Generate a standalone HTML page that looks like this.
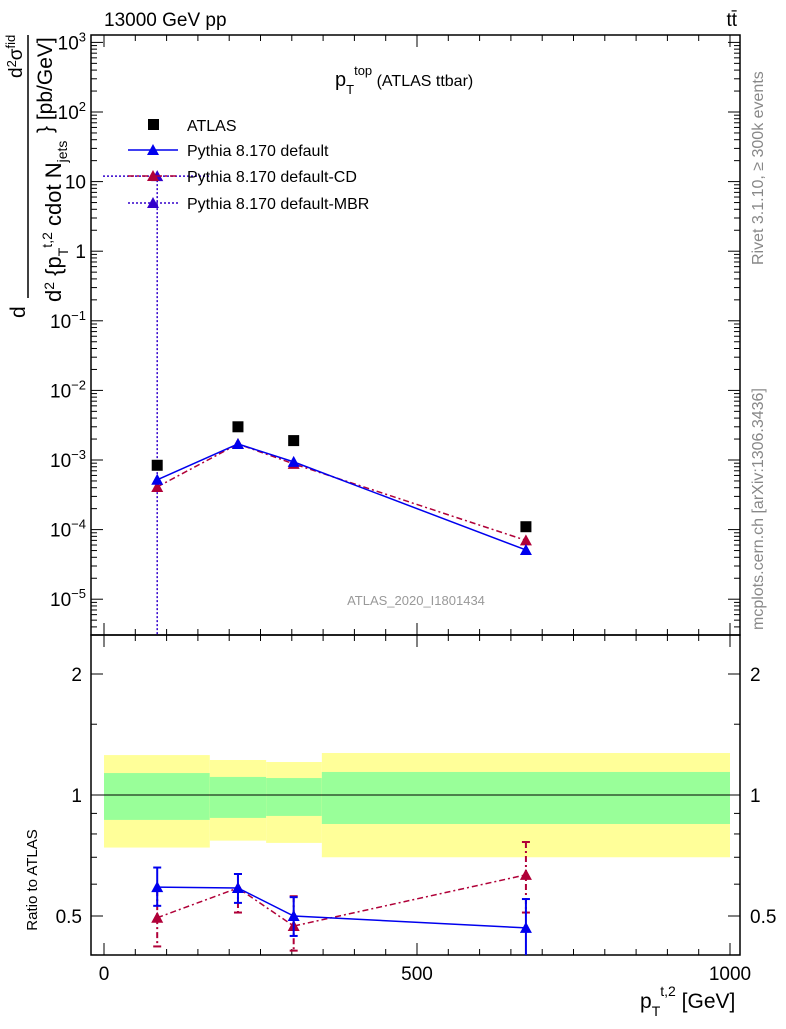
<!DOCTYPE html>
<html><head><meta charset="utf-8"><style>
body{margin:0;background:#fff;width:786px;height:1024px;overflow:hidden}
svg text{font-family:"Liberation Sans",sans-serif}
</style></head><body>
<svg id="c" width="786" height="1024" xmlns="http://www.w3.org/2000/svg"></svg>
<script>
const xs=[85,214,303,674];
const atlas=[8.4e-4,3.0e-3,1.9e-3,1.1e-4];
const def=[5.2e-4,1.7e-3,9.4e-4,5.1e-5];
const cd=[4.1e-4,1.7e-3,8.8e-4,7.0e-5];
const mbrX=[85];const mbrY=[12];
const binEdges=[0,169,259,348,1000];
const yelLo=[0.74,0.77,0.76,0.70],yelHi=[1.257,1.222,1.208,1.272];
const grnLo=[0.867,0.877,0.887,0.847],grnHi=[1.134,1.109,1.102,1.141];
const rDef=[0.59,0.587,0.50,0.467],rDefLo=[0.53,0.539,0.446,0.38],rDefHi=[0.66,0.636,0.557,0.551];
const rCd=[0.495,0.587,0.472,0.633],rCdLo=[0.42,0.51,0.41,0.51],rCdHi=[0.58,0.636,0.56,0.764];
const xTicks=[0,500,1000];
const yTicks=[3,2,1,0,-1,-2,-3,-4,-5];
const rTicks=[2,1,0.5];

const NS="http://www.w3.org/2000/svg",svg=document.getElementById('c');
function X(v){return 104+v*0.626}
function Y(v){return 460-(Math.log10(v)+3)*69.6}
function R(v){return 795-121*Math.log2(v)}
function el(t,a,p){const e=document.createElementNS(NS,t);for(const k in a)e.setAttribute(k,a[k]);(p||svg).appendChild(e);return e}
function txt(x,y,s,a,p){const e=el('text',Object.assign({x:x,y:y},a||{}),p);e.innerHTML=s;return e}
const L=91,Rt=740,T=35,M=635,B=955;
const bands=el('g',{});


for(let i=0;i<4;i++){
 const x0=X(binEdges[i]),x1=X(binEdges[i+1]);
 const y=el('rect',{x:x0,y:R(yelHi[i]),width:x1-x0,height:R(yelLo[i])-R(yelHi[i]),fill:'#ffff99'},bands);
 
 
 const g=el('rect',{x:x0,y:R(grnHi[i]),width:x1-x0,height:R(grnLo[i])-R(grnHi[i]),fill:'#99ff99'},bands);
 
 
}
el('line',{x1:L,x2:Rt,y1:R(1),y2:R(1),stroke:'#000'});
el('rect',{x:L,y:T,width:Rt-L,height:M-T,fill:'none',stroke:'#000','stroke-width':1.5});
el('rect',{x:L,y:M,width:Rt-L,height:B-M,fill:'none',stroke:'#000','stroke-width':1.5});
for(let d=-6;d<=3;d++){for(let m=1;m<10;m++){const v=m*Math.pow(10,d);const y=Y(v);if(y<T||y>M)continue;const l=m==1?12:6;
 el('line',{x1:L,x2:L+l,y1:y,y2:y,stroke:'#000'});el('line',{x1:Rt,x2:Rt-l,y1:y,y2:y,stroke:'#000'});}}
const ylab={3:'10<tspan dy="-8" font-size="13">3</tspan>',2:'10<tspan dy="-8" font-size="13">2</tspan>',1:'10',0:'1',
 '-1':'10<tspan dy="-8" font-size="13">−1</tspan>','-2':'10<tspan dy="-8" font-size="13">−2</tspan>','-3':'10<tspan dy="-8" font-size="13">−3</tspan>','-4':'10<tspan dy="-8" font-size="13">−4</tspan>','-5':'10<tspan dy="-8" font-size="13">−5</tspan>'};
for(const d of yTicks){const t=txt(86,Y(Math.pow(10,d))+7,ylab[d],{'font-size':19,'text-anchor':'end'});
 
 }
for(let v=0;v<=1000;v+=50){const x=X(v),l=v%500==0?12:6;
 el('line',{x1:x,x2:x,y1:B,y2:B-l,stroke:'#000'});el('line',{x1:x,x2:x,y1:M,y2:M-l,stroke:'#000'});
 el('line',{x1:x,x2:x,y1:M,y2:M+l,stroke:'#000'});el('line',{x1:x,x2:x,y1:T,y2:T+l,stroke:'#000'});}
for(const v of xTicks){const t=txt(X(v),980,v,{'font-size':19,'text-anchor':'middle'});
 
 }
for(const v of [0.4,0.5,0.6,0.7,0.8,0.9,1,1.5,2]){const y=R(v);const l=(v==0.5||v==1||v==2)?12:6;
 el('line',{x1:L,x2:L+l,y1:y,y2:y,stroke:'#000'});el('line',{x1:Rt,x2:Rt-l,y1:y,y2:y,stroke:'#000'});}
for(const v of rTicks){txt(82,R(v)+7,v,{'font-size':19,'text-anchor':'end'});txt(750,R(v)+7,v,{'font-size':19});}
function tri(x,y,c,p){return el('path',{d:`M${x},${y-6}L${x+6},${y+5}L${x-6},${y+5}Z`,fill:c},p)}
function series(vals,c,dash,name){const g=el('g',{});
 el('polyline',{points:vals.map((v,i)=>X(xs[i])+','+Y(v)).join(' '),fill:'none',stroke:c,'stroke-width':1.5,'stroke-dasharray':dash},g);
 vals.forEach((v,i)=>tri(X(xs[i]),Y(v),c,g));}
el('line',{x1:X(mbrX[0]),x2:X(mbrX[0]),y1:Y(mbrY[0]),y2:M,stroke:'#3300cc','stroke-dasharray':'2,2','stroke-width':1.5});
el('line',{x1:103,x2:210,y1:Y(mbrY[0]),y2:Y(mbrY[0]),stroke:'#3300cc','stroke-dasharray':'2,2','stroke-width':1.5});
tri(X(mbrX[0]),Y(mbrY[0]),'#3300cc');
series(cd,'#b00038','6,3,2,3','series-default-cd');
series(def,'#0000ee','','series-default');
atlas.forEach((v,i)=>{const r=el('rect',{x:X(xs[i])-5.5,y:Y(v)-5.5,width:11,height:11,fill:'#000'});
 
 });
function rseries(v,lo,hi,c,dash,name){const g=el('g',{});
 el('polyline',{points:v.map((r,i)=>X(xs[i])+','+R(r)).join(' '),fill:'none',stroke:c,'stroke-width':1.5,'stroke-dasharray':dash},g);
 v.forEach((r,i)=>{const x=X(xs[i]);el('line',{x1:x,x2:x,y1:R(hi[i]),y2:Math.min(R(lo[i]),B),stroke:c,'stroke-width':2,'stroke-dasharray':dash},g);
  el('line',{x1:x-4,x2:x+4,y1:R(hi[i]),y2:R(hi[i]),stroke:c,'stroke-width':2},g);
  if(R(lo[i])<B)el('line',{x1:x-4,x2:x+4,y1:R(lo[i]),y2:R(lo[i]),stroke:c,'stroke-width':2},g);
  tri(x,R(r),c,g);});}
rseries(rCd,rCdLo,rCdHi,'#b00038','6,3,2,3','ratio-default-cd');
rseries(rDef,rDefLo,rDefHi,'#0000ee','','ratio-default');
const lg=el('g',{});
el('rect',{x:148,y:119,width:11,height:11,fill:'#000'},lg);txt(187,131,'ATLAS',{'font-size':16},lg);
el('line',{x1:128,x2:178,y1:150,y2:150,stroke:'#0000ee','stroke-width':1.5},lg);tri(153,150,'#0000ee',lg);txt(187,156,'Pythia 8.170 default',{'font-size':16},lg);
el('line',{x1:128,x2:178,y1:176,y2:176,stroke:'#b00038','stroke-dasharray':'6,3,2,3','stroke-width':1.5},lg);tri(153,176,'#b00038',lg);txt(187,182,'Pythia 8.170 default-CD',{'font-size':16},lg);
el('line',{x1:128,x2:178,y1:203,y2:203,stroke:'#3300cc','stroke-dasharray':'2,2','stroke-width':1.5},lg);tri(153,203,'#3300cc',lg);txt(187,209,'Pythia 8.170 default-MBR',{'font-size':16},lg);
txt(104,26,'13000 GeV pp',{'font-size':19});
txt(737,26,'tt̄',{'font-size':19,'text-anchor':'end'});
txt(335,86,'p<tspan dy="8" font-size="13">T</tspan><tspan dy="-19" font-size="13">top</tspan><tspan dy="11" font-size="16"> (ATLAS ttbar)</tspan>',{'font-size':20});
txt(416,605,'ATLAS_2020_I1801434',{'font-size':13,fill:'#999','text-anchor':'middle'});
txt(640,1008,'p<tspan dy="8" font-size="14">T</tspan><tspan dy="-20" font-size="14">t,2</tspan><tspan dy="12"> [GeV]</tspan>',{'font-size':21});
txt(0,0,'Ratio to ATLAS',{'font-size':15,transform:'translate(37,880) rotate(-90)','text-anchor':'middle'});
txt(0,0,'Rivet 3.1.10, ≥ 300k events',{'font-size':16,fill:'#888',transform:'translate(763,265) rotate(-90)'});
txt(0,0,'mcplots.cern.ch [arXiv:1306.3436]',{'font-size':16,fill:'#888',transform:'translate(763,630) rotate(-90)'});
txt(0,0,'d<tspan dy="-6" font-size="13">2</tspan><tspan dy="6">σ</tspan><tspan dy="-7" font-size="13">fid</tspan>',{'font-size':19,transform:'translate(22,78) rotate(-90)'});
el('line',{x1:28,x2:28,y1:35,y2:298,stroke:'#000','stroke-width':1.5});
txt(0,0,'d',{'font-size':21,transform:'translate(25,318) rotate(-90)'});
txt(0,0,'d<tspan dy="-7" font-size="14">2</tspan><tspan dy="7"> {p</tspan><tspan dy="7" font-size="14">T</tspan><tspan dy="-16" font-size="14">t,2</tspan><tspan dy="9"> cdot N</tspan><tspan dy="6" font-size="14">jets</tspan>',{'font-size':22,transform:'translate(61,302) rotate(-90)'});
txt(0,0,'} [pb/GeV]',{'font-size':21,transform:'translate(52,133) rotate(-90)'});
</script>
</body></html>
